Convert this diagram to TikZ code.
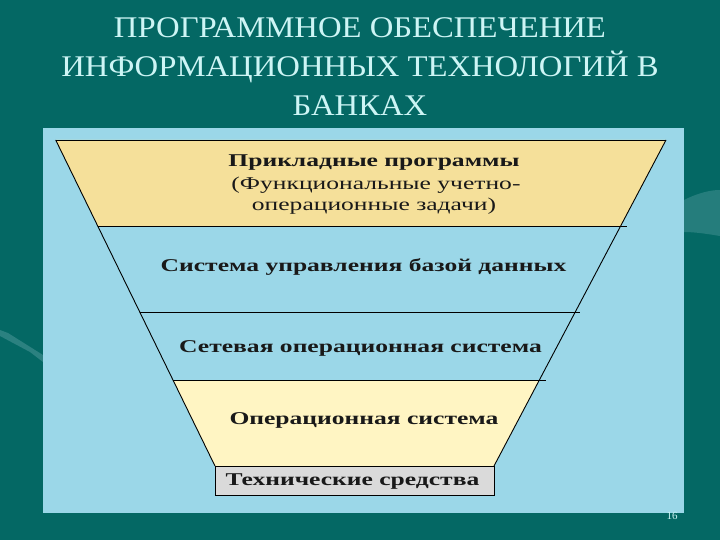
\documentclass[tikz,border=0pt]{standalone}
\usepackage{fontspec}
\usepackage{graphicx}
\setmainfont{Liberation Serif}
\definecolor{bgteal}{RGB}{4,104,100}
\definecolor{panelblue}{RGB}{155,215,232}
\definecolor{tanfill}{RGB}{245,224,154}
\definecolor{paleyellow}{RGB}{255,245,195}
\definecolor{techgrey}{RGB}{218,218,218}
\definecolor{titlecyan}{RGB}{205,245,245}
\definecolor{streak}{RGB}{60,140,140}
\newcommand{\ttl}[1]{\scalebox{1.09}[1]{#1}}
\newcommand{\lyr}[1]{\scalebox{1.42}[1]{#1}}
\tikzset{
  titletext/.style={text=titlecyan, font=\fontsize{30}{30}\selectfont, anchor=base, inner sep=0pt},
  layertext/.style={text=black!90, font=\fontsize{18}{18}\selectfont\bfseries, anchor=base, inner sep=0pt},
  subtext/.style={text=black!90, font=\fontsize{18}{18}\selectfont, anchor=base, inner sep=0pt},
  edge/.style={draw=black, line width=0.9pt},
}
\begin{document}
\begin{tikzpicture}[x=1pt,y=-1pt]
\useasboundingbox (0,0) rectangle (720,540);
% background
\fill[bgteal] (0,0) rectangle (720,540);
% faint background streaks
\fill[streak, opacity=0.6] (684,200) .. controls (700,192) and (712,190) .. (720,190) -- (720,236) .. controls (708,234) and (695,232) .. (684,232) -- cycle;
\fill[streak, opacity=0.7] (0,330) -- (8,333) -- (43,355) -- (43,362) -- (30,352) -- (0,336) -- cycle;
% panel
\fill[panelblue] (43,128) rectangle (684,513);
% title
\node[titletext] (t1) at (360,38) {\ttl{ПРОГРАММНОЕ ОБЕСПЕЧЕНИЕ}};
\node[titletext] (t2) at (360,77) {\ttl{ИНФОРМАЦИОННЫХ ТЕХНОЛОГИЙ В}};
\node[titletext] (t3) at (360,116) {\ttl{БАНКАХ}};
% fills
\fill[tanfill] (55.7,140) -- (666,140) -- (620.3,226.7) -- (98.1,226.7) -- cycle;
\fill[paleyellow] (173,380) -- (539.4,380) -- (494,466) -- (215,466) -- cycle;
% funnel sides
\draw[edge] (55.7,140) -- (215,466);
\draw[edge] (666,140) -- (494,466);
% separators
\draw[edge] (55.7,140) -- (666,140);
\draw[edge] (98.1,226.7) -- (627,226.7);
\draw[edge] (140,312) -- (580,312);
\draw[edge] (173,380) -- (546,380);
% technical box
\node[draw=black, line width=0.9pt, fill=techgrey, minimum width=279pt, minimum height=29pt, inner sep=0pt, anchor=north west] (tech) at (215,466) {};
% texts
\node[layertext] (l1) at (374,167) {\lyr{Прикладные программы}};
\node[subtext] (l1b) at (376,190) {\lyr{(Функциональные учетно-}};
\node[subtext] (l1c) at (374,211) {\lyr{операционные задачи)}};
\node[layertext] (l2) at (363.5,271) {\lyr{Система управления базой данных}};
\node[layertext] (l3) at (360.5,352) {\lyr{Сетевая операционная система}};
\node[layertext] (l4) at (364,424) {\lyr{Операционная система}};
\node[layertext] (l5) at (352.5,485) {\lyr{Технические средства}};
\node[text=titlecyan, font=\fontsize{11}{11}\selectfont, inner sep=0pt] (pg) at (672,516) {16};
\end{tikzpicture}
\end{document}
